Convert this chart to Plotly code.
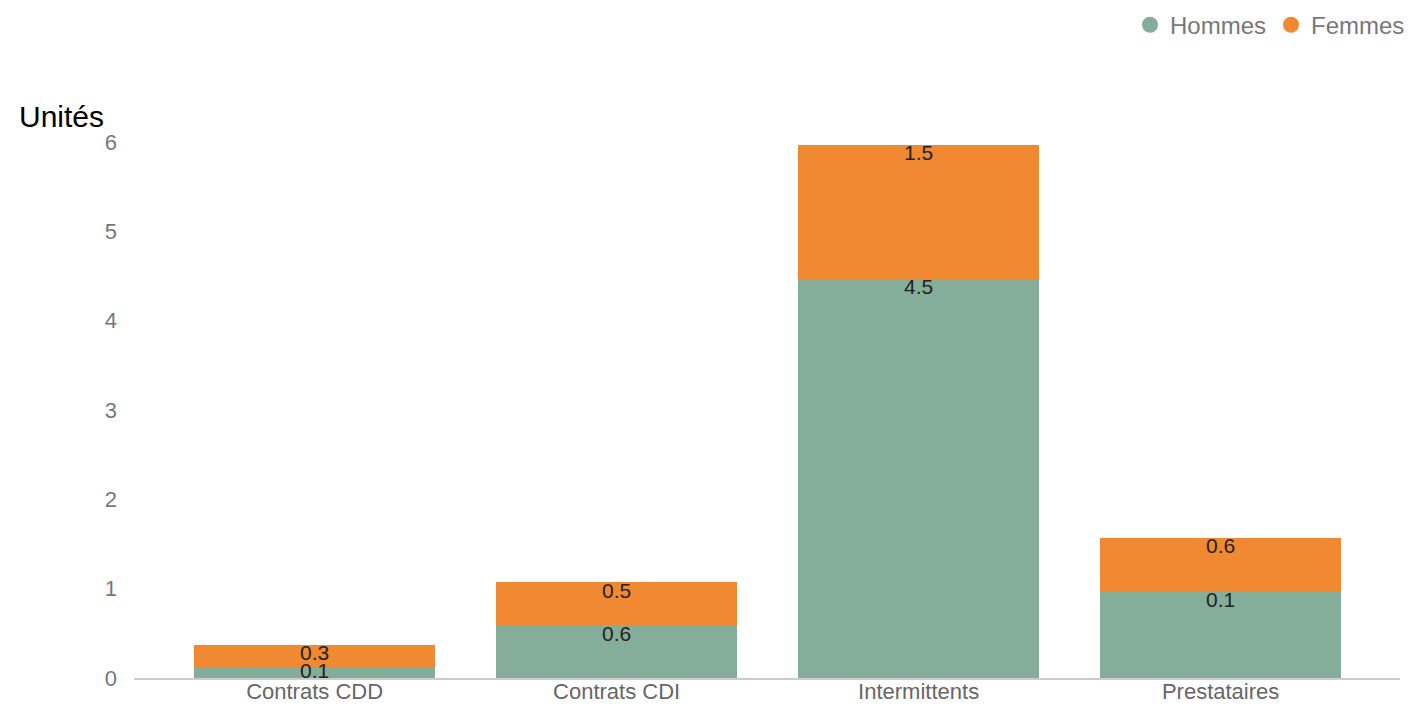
import plotly.graph_objects as go

categories = ["Contrats CDD", "Contrats CDI", "Intermittents", "Prestataires"]
hommes = [0.11, 0.58, 4.47, 0.97]
femmes = [0.26, 0.49, 1.5, 0.6]
hommes_labels = ["0.1", "0.6", "4.5", "0.1"]
femmes_labels = ["0.3", "0.5", "1.5", "0.6"]
y_ticks = [0, 1, 2, 3, 4, 5, 6]

GREEN = "#84AE99"
ORANGE = "#F18832"
FONT = "Liberation Sans, Arial, sans-serif"
LABEL_DROP = 0.112  # label centre below segment top, in axis units

# label positions derived from the stacked values: near the top, but never below segment centre
h_top = hommes
f_base = hommes
f_top = [h + f for h, f in zip(hommes, femmes)]
h_label_y = [max(t - LABEL_DROP, t / 2) for t in h_top]
f_label_y = [max(t - LABEL_DROP, (b + t) / 2) for b, t in zip(f_base, f_top)]

fig = go.Figure()
fig.add_trace(go.Bar(
    x=categories, y=hommes, name="Hommes", marker=dict(color=GREEN, line=dict(width=0)),
    showlegend=False, hoverinfo="skip",
))
fig.add_trace(go.Bar(
    x=categories, y=femmes, name="Femmes", marker=dict(color=ORANGE, line=dict(width=0)),
    showlegend=False, hoverinfo="skip",
))
fig.add_trace(go.Scatter(
    x=categories, y=h_label_y, mode="text", text=hommes_labels, textposition="middle center",
    textfont=dict(color="#222", size=21, family=FONT), showlegend=False, cliponaxis=False,
))
fig.add_trace(go.Scatter(
    x=categories, y=f_label_y, mode="text", text=femmes_labels, textposition="middle center",
    textfont=dict(color="#222", size=21, family=FONT), showlegend=False, cliponaxis=False,
))
# legend entries with circular markers
fig.add_trace(go.Scatter(x=[None], y=[None], mode="markers", name="Hommes",
                         marker=dict(symbol="circle", size=26, color=GREEN)))
fig.add_trace(go.Scatter(x=[None], y=[None], mode="markers", name="Femmes",
                         marker=dict(symbol="circle", size=26, color=ORANGE)))

fig.update_layout(
    barmode="stack",
    bargap=0.2,
    width=1402, height=694,
    margin=dict(l=126, r=10, t=134, b=24, autoexpand=False),
    paper_bgcolor="white", plot_bgcolor="white",
    font=dict(family=FONT),
    legend=dict(orientation="h", x=1.0079, xanchor="right", y=1.218, yanchor="middle",
                font=dict(size=24, color="#777", family=FONT), itemsizing="trace",
                traceorder="normal"),
    xaxis=dict(range=[-0.598, 3.594], showgrid=False, showline=True, linecolor="#cccccc",
               linewidth=2, ticks="", tickfont=dict(size=22, color="#666"), fixedrange=True,
               automargin=False, ticklabelstandoff=-7),
    yaxis=dict(range=[0, 6], tickvals=y_ticks, showgrid=False, zeroline=False, showline=False,
               ticks="", tickfont=dict(size=22, color="#777"), ticklabelstandoff=16,
               automargin=False),
    annotations=[dict(text="Unités", x=0, xref="paper", xanchor="left", xshift=-117,
                      y=1.0, yref="paper", yanchor="bottom", yshift=7, showarrow=False,
                      font=dict(size=30, color="black", family=FONT))],
)

fig.write_html("out.html")
